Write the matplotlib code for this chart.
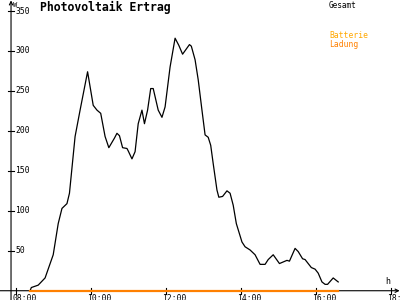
# Photovoltaik Ertrag - Tageskurve
import matplotlib
matplotlib.use("Agg")
import matplotlib.pyplot as plt

# ── DATA ──────────────────────────────────────────────────
times = ["08:23", "08:25", "08:36", "08:47", "09:00", "09:08", "09:14", "09:22",
         "09:26", "09:35", "09:43", "09:55", "10:04", "10:10", "10:16", "10:23",
         "10:29", "10:38", "10:42", "10:46", "10:51", "10:58", "11:00", "11:06",
         "11:11", "11:16", "11:22", "11:26", "11:31", "11:36", "11:40", "11:48",
         "11:54", "11:59", "12:07", "12:15", "12:21", "12:27", "12:38", "12:41",
         "12:47", "12:52", "12:58", "13:03", "13:08", "13:12", "13:16", "13:22",
         "13:25", "13:31", "13:38", "13:43", "13:48", "13:53", "14:02", "14:07",
         "14:15", "14:23", "14:27", "14:31", "14:39", "14:44", "14:52", "15:02",
         "15:14", "15:18", "15:27", "15:32", "15:39", "15:43", "15:53", "15:59",
         "16:04", "16:10", "16:15", "16:19", "16:28", "16:36"]
gesamt = [0, 4, 7, 16, 45, 84, 103, 109,
          122, 193, 226, 274, 232, 226, 222, 193,
          179, 191, 197, 194, 179, 178, 175, 165,
          174, 209, 226, 209, 226, 253, 253, 226,
          217, 230, 280, 316, 307, 296, 308, 306,
          289, 264, 226, 195, 192, 182, 159, 126,
          117, 118, 125, 122, 107, 84, 61, 55,
          51, 45, 39, 33, 33, 39, 45, 34,
          38, 37, 53, 49, 40, 39, 29, 27,
          22, 11, 8, 8, 16, 11]
ladung = [0] * len(times)

y_ticks = [50, 100, 150, 200, 250, 300, 350]
x_ticks = [8, 10, 12, 14, 16, 18]


def to_hours(s):
    h, m = s.split(":")
    return int(h) + int(m) / 60


hours = [to_hours(t) for t in times]

# ── CHART ─────────────────────────────────────────────────
fig = plt.figure(figsize=(4, 3), dpi=100)
ax = fig.add_axes([0, 0, 1, 1])
x0, x1 = 7.581, 18.248
y0, y1 = -11.6, 363.8
ax.set_xlim(x0, x1)
ax.set_ylim(y0, y1)
ax.axis("off")

yaxis_x = 7.875
mono = "DejaVu Sans Mono"

# axes with arrows
ax.annotate("", xy=(yaxis_x, y1 - 0.5), xytext=(yaxis_x, y0),
            arrowprops=dict(arrowstyle="->", lw=0.8, color="black",
                            shrinkA=0, shrinkB=0, mutation_scale=6))
ax.annotate("", xy=(x1 - 0.01, 0), xytext=(x0, 0),
            arrowprops=dict(arrowstyle="->", lw=0.8, color="black",
                            shrinkA=0, shrinkB=0, mutation_scale=6))

# y ticks + labels
for v in y_ticks:
    ax.plot([yaxis_x - 0.08, yaxis_x + 0.08], [v, v], color="black", lw=0.8)
    ax.text(yaxis_x + 0.12, v, str(v), fontsize=5.8, family=mono,
            ha="left", va="center")

# x ticks + labels
for h in x_ticks:
    ax.plot([h, h], [-4, 4], color="black", lw=0.8)
    ax.text(h - 0.09, -3.5, f"{h:02d}:00", fontsize=5.8, family=mono,
            ha="left", va="top")

ax.text(17.85, 11, "h", fontsize=6, family=mono, ha="left", va="center")
ax.text(yaxis_x + 0.05, 357, "W", fontsize=5, family=mono, ha="left", va="center")

# series
ax.plot(hours, gesamt, color="black", lw=0.9, zorder=3)
ax.plot(hours, ladung, color="#FF8000", lw=1.6, zorder=4)

# title + legend texts
fig.text(40 / 400, 1 - 7 / 300, "Photovoltaik Ertrag", fontsize=8.3,
         family=mono, weight="bold", ha="left", va="center")
fig.text(329 / 400, 1 - 5 / 300, "Gesamt", fontsize=5.6, family=mono,
         ha="left", va="center")
fig.text(329 / 400, 1 - 36 / 300, "Batterie", fontsize=5.8, family=mono,
         color="#FFA800", ha="left", va="center")
fig.text(329 / 400, 1 - 44 / 300, "Ladung", fontsize=5.8, family=mono,
         color="#FF8000", ha="left", va="center")

fig.savefig("out.png", dpi=100)
